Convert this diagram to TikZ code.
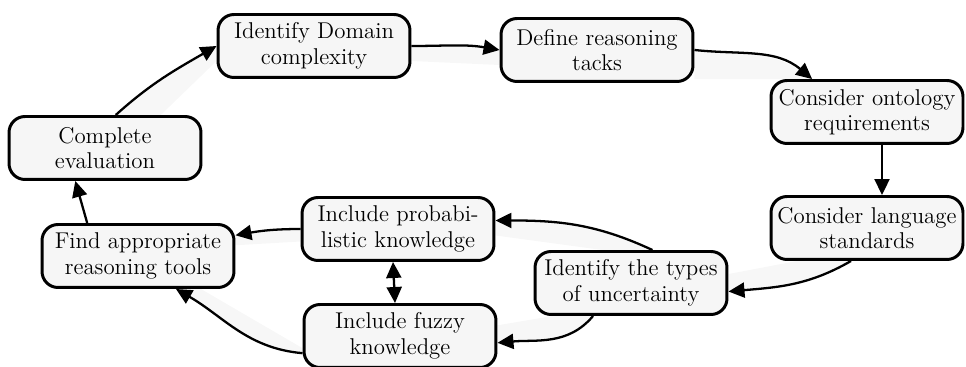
\documentclass[tikz,border=0pt]{standalone}
\usetikzlibrary{arrows.meta,backgrounds}

\tikzset{
  stepbox/.style={draw, line width=1.7pt, rounded corners=0.32cm, fill=gray!7,
    minimum width=3.84cm, minimum height=1.26cm, align=center, inner sep=1pt,
    font=\fontsize{13}{14.5}\selectfont},
  flow/.style={line width=1.3pt, -{Triangle[length=0.32cm,width=0.3cm]}},
  flowboth/.style={line width=1.3pt, {Triangle[length=0.32cm,width=0.3cm]}-{Triangle[length=0.32cm,width=0.3cm]}},
  band/.style={fill=gray!6},
}

\begin{document}
\begin{tikzpicture}[x=0.02cm,y=-0.02cm]
\useasboundingbox (0,0) rectangle (966,367);

\node[stepbox] (evalbox) at (105,148) {Complete\\evaluation};
\node[stepbox] (domain) at (314,46) {Identify Domain\\complexity};
\node[stepbox] (tasks) at (597,50) {Define reasoning\\tacks};
\node[stepbox] (ontology) at (867,112) {Consider ontology\\requirements};
\node[stepbox] (language) at (867,228) {Consider language\\standards};
\node[stepbox] (uncert) at (631,283) {Identify the types\\of uncertainty};
\node[stepbox] (prob) at (398,229) {Include probabi-\\listic knowledge};
\node[stepbox] (fuzzy) at (400,336) {Include fuzzy\\knowledge};
\node[stepbox] (tools) at (138,256) {Find appropriate\\reasoning tools};

% light bands behind the arrows
\begin{scope}[on background layer]
\fill[band] (evalbox.72) to[out=42,in=210] (domain.west)
  -- ([yshift=-0.3cm]domain.west) -- ([xshift=0.9cm]evalbox.72) -- cycle;
\fill[band] (domain.east) to[out=0,in=170] (tasks.west)
  -- ([yshift=-0.3cm]tasks.west) -- ([yshift=-0.3cm]domain.east) -- cycle;
\fill[band] (tasks.east) to[out=-6,in=140] (ontology.149)
  -- (ontology.149 -| tasks.east) -- cycle;
\fill[band] ([xshift=-0.32cm]language.south) to[out=-150,in=5] (uncert.-5)
  -- ([yshift=0.35cm]uncert.-5) -- ([xshift=-1.4cm]language.south) -- cycle;
\fill[band] (uncert.57) to[out=155,in=0] (prob.5)
  -- ([yshift=-0.3cm]prob.5) -- ([xshift=-1cm]uncert.57) -- cycle;
\fill[band] (uncert.-139) to[out=-130,in=5] (fuzzy.-4)
  -- ([yshift=0.35cm]fuzzy.-4) -- ([xshift=-0.8cm]uncert.-139) -- cycle;
\fill[band] (prob.west) to[out=180,in=10] (tools.12)
  -- ([yshift=-0.2cm]tools.12) -- ([yshift=-0.25cm]prob.west) -- cycle;
\fill[band] (fuzzy.190) to[out=175,in=-30] (tools.-41)
  -- ([xshift=0.5cm]tools.-41) -- ([yshift=0.1cm]fuzzy.190) -- cycle;
\end{scope}

\draw[flow] (evalbox.72) to[out=42,in=210] (domain.west);
\draw[flow] (domain.east) to[out=0,in=170] (tasks.west);
\draw[flow] (tasks.east) to[out=-6,in=140] (ontology.149);
\draw[flow] ([xshift=0.3cm]ontology.south) -- ([xshift=0.3cm]language.north);
\draw[flow] ([xshift=-0.32cm]language.south) to[out=-150,in=5] (uncert.-5);
\draw[flow] (uncert.57) to[out=155,in=0] (prob.5);
\draw[flow] (uncert.-139) to[out=-130,in=5] (fuzzy.-4);
\draw[flowboth] ([xshift=-0.1cm]prob.south) -- ([xshift=-0.1cm]fuzzy.north);
\draw[flow] (prob.west) to[out=180,in=10] (tools.12);
\draw[flow] (fuzzy.190) to[out=175,in=-30] (tools.-41);
\draw[flow] (tools.147) -- (evalbox.-132);

\end{tikzpicture}
\end{document}
